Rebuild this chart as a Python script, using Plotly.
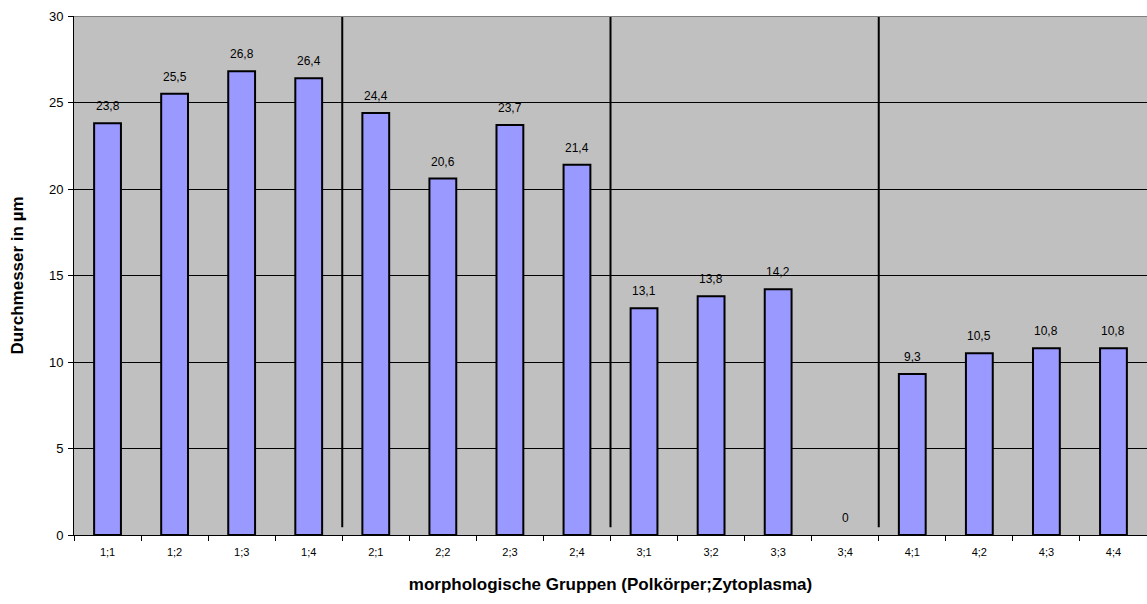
import plotly.graph_objects as go

categories = ["1;1","1;2","1;3","1;4","2;1","2;2","2;3","2;4",
              "3;1","3;2","3;3","3;4","4;1","4;2","4;3","4;4"]
values = [23.8, 25.5, 26.8, 26.4, 24.4, 20.6, 23.7, 21.4,
          13.1, 13.8, 14.2, 0, 9.3, 10.5, 10.8, 10.8]
y_ticks = [0, 5, 10, 15, 20, 25, 30]
separators_after = [3.5, 7.5, 11.5]

fig = go.Figure()
fig.add_trace(go.Bar(
    x=categories, y=values,
    marker=dict(color="#9999FF",
                line=dict(color="black", width=[2 if v > 0 else 0 for v in values])),
    width=0.4, cliponaxis=False, hoverinfo="skip",
))

for c, v in zip(categories, values):
    fig.add_annotation(x=c, y=v, text=f"{v:g}".replace(".", ","), showarrow=False,
                       yanchor="bottom", yshift=8,
                       font=dict(family="Liberation Sans, Arial", size=12, color="black"))

shapes = []
for s in separators_after:
    shapes.append(dict(type="line", xref="x", yref="y", x0=s, x1=s, y0=0.45, y1=30,
                       line=dict(color="black", width=2), layer="above"))
shapes.append(dict(type="line", xref="paper", yref="y", x0=0, x1=1, y0=30, y1=30,
                   line=dict(color="#808080", width=2), layer="above"))
fig.update_layout(
    width=1147, height=604,
    margin=dict(l=74, r=0, t=16, b=69, autoexpand=False),
    paper_bgcolor="white", plot_bgcolor="#C0C0C0",
    showlegend=False,
    shapes=shapes,
    font=dict(family="Liberation Sans, Arial", color="black"),
)
fig.update_xaxes(
    type="category", tickson="boundaries", ticks="outside", ticklen=5,
    tickcolor="black", showline=True, linecolor="black", linewidth=1,
    showgrid=False, tickfont=dict(size=11), automargin=False,
    ticklabelstandoff=7,
    title=dict(text="<b>morphologische Gruppen (Polkörper;Zytoplasma)</b>",
               font=dict(size=17), standoff=20),
    range=[-0.5, 15.5],
)
fig.update_yaxes(
    range=[0, 30], tickvals=y_ticks, ticks="outside", ticklen=5, tickcolor="black",
    showline=True, linecolor="black", linewidth=1,
    showgrid=True, gridcolor="black", gridwidth=1, zeroline=False,
    tickfont=dict(size=13), automargin=False, ticklabelstandoff=2,
    title=dict(text="<b>Durchmesser in µm</b>", font=dict(size=17), standoff=20),
)
fig.write_html("out.html", config={"displayModeBar": False},
               post_script="document.body.style.margin='0';document.body.style.overflow='hidden';")
